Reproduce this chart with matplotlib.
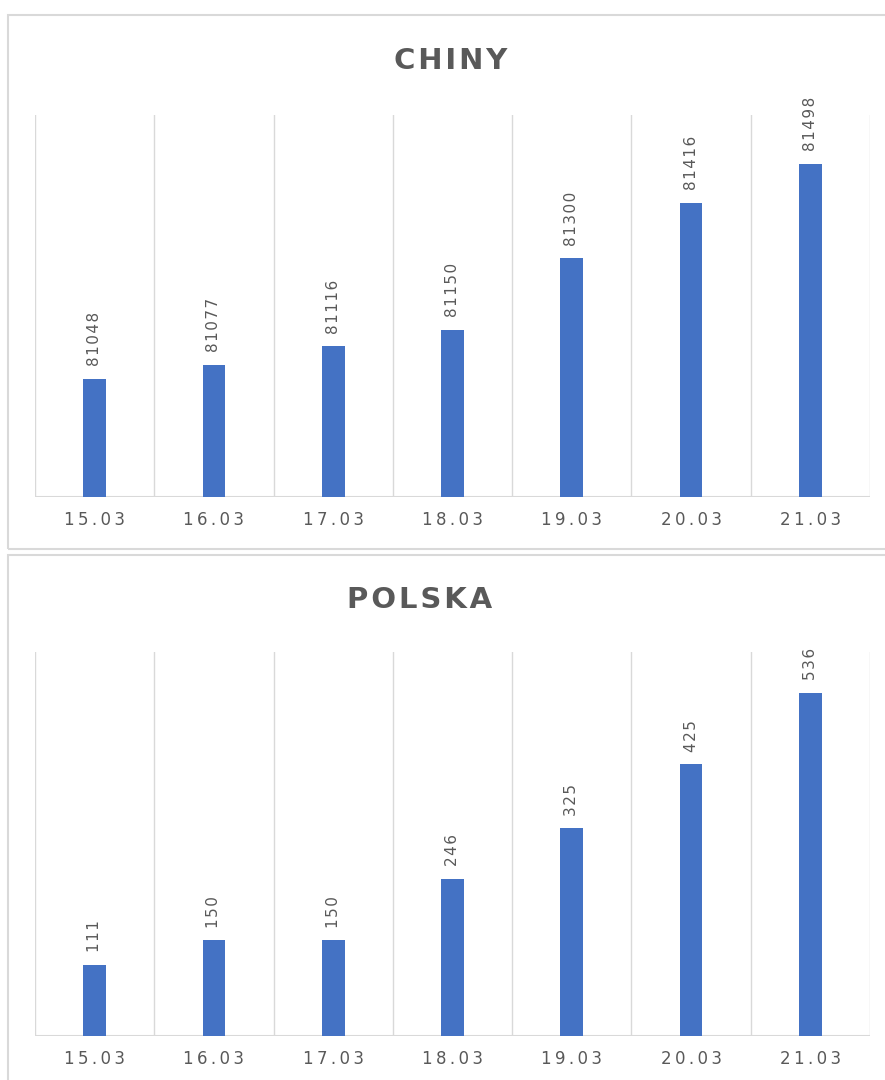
import numpy as np
import matplotlib.pyplot as plt
from matplotlib.patches import Rectangle

# Data
days = ['15.03', '16.03', '17.03', '18.03', '19.03', '20.03', '21.03']
chiny = [81048, 81077, 81116, 81150, 81300, 81416, 81498]
polska = [111, 150, 150, 246, 325, 425, 536]

blue = '#4472C4'
grey_text = '#595959'
grid_col = '#d9d9d9'
fam = ['DejaVu Sans']


def spaced(s, sep='\u2009'):
    # mimic the letter spacing of the original
    return sep.join(s)


fig = plt.figure(figsize=(8.85, 10.8), dpi=100)

# chart frames (figure coords)
W, H = 885, 1080
for (x0, y0, x1, y1) in [(8, 15, 890, 549), (8, 555, 890, 1090)]:
    fig.add_artist(Rectangle((x0 / W, 1 - y1 / H), (x1 - x0) / W, (y1 - y0) / H,
                             transform=fig.transFigure, fill=False,
                             edgecolor=grid_col, lw=1.5))


def draw(ax, values, ylim, title, title_x, title_y):
    x = np.arange(len(days))
    ax.bar(x, values, width=0.19, color=blue, zorder=3)
    ax.set_xlim(-0.5, len(days) - 0.5)
    ax.set_ylim(*ylim)
    # category separators
    for b in np.arange(-0.5, len(days), 1.0):
        ax.axvline(b, color=grid_col, lw=1.0, zorder=1)
    ax.axhline(ylim[0], color=grid_col, lw=1.5, zorder=2)
    for s in ax.spines.values():
        s.set_visible(False)
    ax.set_yticks([])
    ax.set_xticks(x)
    ax.set_xticklabels([spaced(d) for d in days], fontsize=12, color=grey_text,
                       family=fam)
    ax.tick_params(axis='x', length=0, pad=10)
    for xi, v in zip(x, values):
        ax.annotate(spaced(str(v), '\u200a'), (xi, v), xytext=(0, 9),
                    textcoords='offset points', rotation=90, ha='center',
                    va='bottom', fontsize=11, color=grey_text, family=fam)
    fig.text(title_x / W, 1 - title_y / H, spaced(title, '\u200a'), ha='center',
             va='center', fontsize=21, fontweight='bold', color=grey_text,
             family=fam)


ax1 = fig.add_axes([35 / W, 1 - 497 / H, 835 / W, 382 / H])
draw(ax1, chiny, (80800, 81600), 'CHINY', 451, 61)

ax2 = fig.add_axes([35 / W, 1 - 1036 / H, 835 / W, 384 / H])
draw(ax2, polska, (0, 600), 'POLSKA', 420, 600)

plt.savefig('out.png', dpi=100)
